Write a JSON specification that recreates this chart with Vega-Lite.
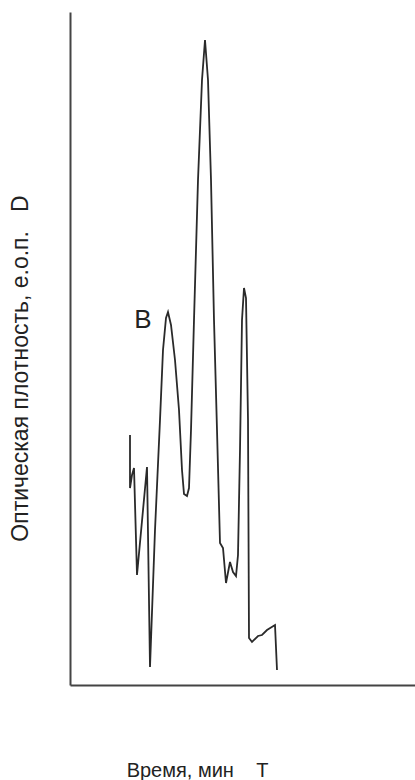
{
  "$schema": "https://vega.github.io/schema/vega-lite/v6.json",
  "width": 345,
  "height": 673,
  "autosize": "none",
  "padding": {"left": 70, "top": 12, "right": 0, "bottom": 95},
  "background": "white",
  "config": {"view": {"stroke": null}, "font": "Liberation Sans"},
  "data": {"values": [
    {"i": 1, "t": 60, "d": 250},
    {"i": 2, "t": 60, "d": 197},
    {"i": 3, "t": 62, "d": 210},
    {"i": 4, "t": 64, "d": 217},
    {"i": 5, "t": 67, "d": 110},
    {"i": 6, "t": 77, "d": 218},
    {"i": 7, "t": 80, "d": 18},
    {"i": 8, "t": 85, "d": 155},
    {"i": 9, "t": 90, "d": 265},
    {"i": 10, "t": 93, "d": 335},
    {"i": 11, "t": 96, "d": 367},
    {"i": 12, "t": 98, "d": 373},
    {"i": 13, "t": 101, "d": 360},
    {"i": 14, "t": 105, "d": 325},
    {"i": 15, "t": 109, "d": 275},
    {"i": 16, "t": 112, "d": 215},
    {"i": 17, "t": 114, "d": 191},
    {"i": 18, "t": 117, "d": 189},
    {"i": 19, "t": 119, "d": 197},
    {"i": 20, "t": 121, "d": 255},
    {"i": 21, "t": 124, "d": 365},
    {"i": 22, "t": 128, "d": 505},
    {"i": 23, "t": 132, "d": 605},
    {"i": 24, "t": 135, "d": 645},
    {"i": 25, "t": 138, "d": 605},
    {"i": 26, "t": 141, "d": 505},
    {"i": 27, "t": 144, "d": 365},
    {"i": 28, "t": 147, "d": 255},
    {"i": 29, "t": 150, "d": 142},
    {"i": 30, "t": 153, "d": 137},
    {"i": 31, "t": 156, "d": 102},
    {"i": 32, "t": 160, "d": 123},
    {"i": 33, "t": 163, "d": 113},
    {"i": 34, "t": 166, "d": 109},
    {"i": 35, "t": 168, "d": 130},
    {"i": 36, "t": 170, "d": 235},
    {"i": 37, "t": 172, "d": 365},
    {"i": 38, "t": 174, "d": 397},
    {"i": 39, "t": 176, "d": 387},
    {"i": 40, "t": 178, "d": 265},
    {"i": 41, "t": 179, "d": 47},
    {"i": 42, "t": 182, "d": 43},
    {"i": 43, "t": 188, "d": 49},
    {"i": 44, "t": 192, "d": 50},
    {"i": 45, "t": 197, "d": 55},
    {"i": 46, "t": 205, "d": 60},
    {"i": 47, "t": 207, "d": 15}
  ]},
  "layer": [
    {
      "mark": {"type": "line", "color": "#2a2a2a", "strokeWidth": 1.8, "interpolate": "linear"},
      "encoding": {
        "x": {"field": "t", "type": "quantitative", "scale": {"domain": [0, 345], "nice": false},
          "axis": {"ticks": false, "labels": false, "grid": false, "domainColor": "#444", "domainWidth": 2,
            "title": "Время, мин\u00a0\u00a0\u00a0\u00a0T", "titleFontSize": 20, "titleFontWeight": "normal", "titleColor": "#222",
            "titleX": 127, "titleY": 91, "titleAlign": "center", "titleBaseline": "alphabetic", "titleAnchor": null}},
        "y": {"field": "d", "type": "quantitative", "scale": {"domain": [0, 673], "nice": false},
          "axis": {"ticks": false, "labels": false, "grid": false, "domainColor": "#444", "domainWidth": 2,
            "title": "Оптическая плотность, е.о.п.\u00a0\u00a0\u00a0D", "titleFontSize": 23, "titleFontWeight": "normal", "titleColor": "#222",
            "titleX": -50, "titleY": 356, "titleAngle": -90, "titleAlign": "center", "titleBaseline": "middle", "titleAnchor": null}},
        "order": {"field": "i", "type": "quantitative"}
      }
    },
    {
      "data": {"values": [{"t": 73, "d": 365, "label": "B"}]},
      "mark": {"type": "text", "fontSize": 26, "color": "#222", "align": "center", "baseline": "middle", "font": "Liberation Sans"},
      "encoding": {
        "x": {"field": "t", "type": "quantitative"},
        "y": {"field": "d", "type": "quantitative"},
        "text": {"field": "label"}
      }
    }
  ]
}
